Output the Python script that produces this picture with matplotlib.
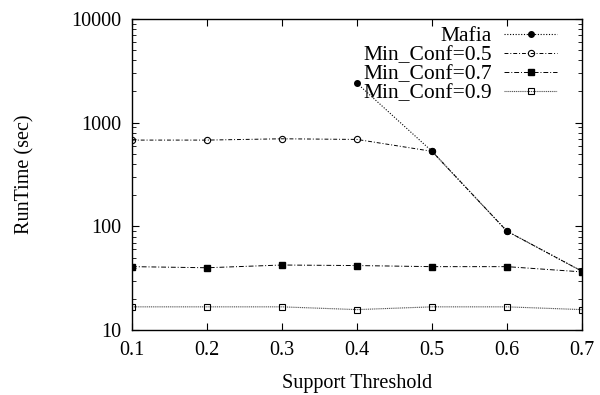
import matplotlib
matplotlib.use("Agg")
import matplotlib.pyplot as plt
from matplotlib.ticker import LogLocator, FixedLocator, NullFormatter

plt.rcParams['font.family'] = ['Liberation Serif', 'DejaVu Serif']

support = [0.1, 0.2, 0.3, 0.4, 0.5, 0.6, 0.7]
mafia_x = [0.4, 0.5, 0.6, 0.7]
mafia = [2400, 530, 90, 37]
conf05 = [680, 680, 700, 690, 530, 90, 37]
conf07 = [41, 40, 42.5, 42, 41, 41, 36.5]
conf09 = [16.8, 16.8, 16.8, 15.8, 16.8, 16.8, 15.8]

fig = plt.figure(figsize=(6.0, 3.95), dpi=100)
ax = fig.add_axes([0.22, 0.164, 0.75, 0.788])

ax.plot(mafia_x, mafia, color='black', ls=(0, (1, 1.5)), lw=0.8,
        marker='o', ms=4, mfc='black', label='Mafia')
ax.plot(support, conf05, color='black', ls=(0, (4, 2, 1, 2)), lw=0.7,
        marker='o', ms=4.5, mfc='none', mew=0.8, label='Min_Conf=0.5')
ax.plot(support, conf07, color='black', ls=(0, (5, 2, 1, 2)), lw=0.7,
        marker='s', ms=5, mfc='black', label='Min_Conf=0.7')
ax.plot(support, conf09, color='#555555', ls=(0, (1, 0.7)), lw=0.8,
        marker='s', ms=5, mfc='none', mec='black', mew=0.8, label='Min_Conf=0.9')

ax.set_yscale('log')
ax.set_xlim(0.1, 0.7)
ax.set_ylim(10, 10000)
ax.set_xticks(support)
ax.set_xticklabels(['0.1', '0.2', '0.3', '0.4', '0.5', '0.6', '0.7'])
ax.yaxis.set_major_locator(FixedLocator([10, 100, 1000, 10000]))
ax.set_yticklabels(['10', '100', '1000', '10000'])
ax.yaxis.set_minor_locator(LogLocator(base=10, subs=range(2, 10)))
ax.yaxis.set_minor_formatter(NullFormatter())

ax.tick_params(which='both', direction='in', top=True, right=True, labelsize=14.5)
ax.tick_params(which='major', length=5, width=0.8)
ax.tick_params(axis='x', which='major', pad=8)
ax.tick_params(axis='y', which='major', pad=8)
ax.tick_params(which='minor', length=3, width=0.6)
for s in ax.spines.values():
    s.set_linewidth(1.0)

ax.set_xlabel('Support Threshold', fontsize=14.5, labelpad=10)
ax.set_ylabel('RunTime (sec)', fontsize=14.5, labelpad=26)

ax.legend(loc='upper right', bbox_to_anchor=(0.955, 0.99), frameon=False,
          markerfirst=False, fontsize=15.5, handlelength=2.5, handletextpad=0.55,
          labelspacing=-0.05, borderaxespad=0.1, borderpad=0.1)

fig.savefig('out.png', dpi=100)
